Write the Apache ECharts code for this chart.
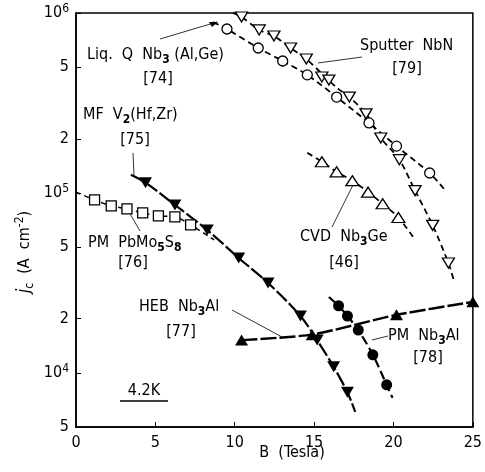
<!DOCTYPE html>
<html><head><meta charset="utf-8">
<script src="https://cdn.jsdelivr.net/npm/echarts@6/dist/echarts.min.js"></script>
<style>html,body{margin:0;padding:0;background:#fff}#c{width:485px;height:472px}</style>
</head><body><div id="c"></div>
<script>
// ---- data (B in Tesla, jc in A/cm^2) ----
const liqB = [9.51, 11.48, 13.02, 14.57, 16.42, 18.46, 20.19, 22.28];
const liqJ = [8.15e5, 6.39e5, 5.41e5, 4.53e5, 3.41e5, 2.45e5, 1.82e5, 1.29e5];
const liqCurveB = [8.64, 9.51, 11.48, 13.02, 14.57, 16.42, 18.46, 20.19, 22.28, 23.27];
const liqCurveJ = [8.9e5, 8.15e5, 6.39e5, 5.41e5, 4.53e5, 3.41e5, 2.45e5, 1.82e5, 1.29e5, 1.03e5];

const nbnB = [10.43, 11.54, 12.47, 13.52, 14.51, 15.49, 15.93, 17.22, 18.27, 19.20, 20.37, 21.36, 22.47, 23.46];
const nbnJ = [9.5e5, 8.05e5, 7.45e5, 6.39e5, 5.55e5, 4.41e5, 4.24e5, 3.41e5, 2.75e5, 2.02e5, 1.53e5, 1.03e5, 6.6e4, 4.08e4];
const nbnCurveB = [9.9, 10.43, 11.54, 12.47, 13.52, 14.51, 15.49, 16.5, 17.22, 18.27, 19.20, 20.37, 21.36, 22.47, 23.46, 23.83];
const nbnCurveJ = [1.0e6, 9.5e5, 8.05e5, 7.45e5, 6.39e5, 5.55e5, 4.6e5, 3.8e5, 3.41e5, 2.75e5, 2.02e5, 1.53e5, 1.03e5, 6.6e4, 4.08e4, 3.2e4];

const cvdB = [15.49, 16.42, 17.41, 18.40, 19.32, 20.31];
const cvdJ = [1.49e5, 1.31e5, 1.17e5, 1.01e5, 8.7e4, 7.3e4];
const cvdCurveB = [14.57, 15.49, 16.42, 17.41, 18.40, 19.32, 20.31, 21.23];
const cvdCurveJ = [1.67e5, 1.49e5, 1.31e5, 1.17e5, 1.01e5, 8.7e4, 7.3e4, 5.7e4];

const mfB = [4.38, 6.23, 8.27, 10.25, 12.10, 14.14, 15.19, 16.23, 17.10];
const mfJ = [1.14e5, 8.58e4, 6.22e4, 4.35e4, 3.16e4, 2.07e4, 1.52e4, 1.08e4, 7.8e3];
const mfCurveB = [3.46, 4.38, 6.23, 8.27, 10.25, 12.10, 14.14, 15.19, 16.23, 17.10, 17.59];
const mfCurveJ = [1.26e5, 1.14e5, 8.58e4, 6.22e4, 4.35e4, 3.16e4, 2.07e4, 1.52e4, 1.08e4, 7.8e3, 6.07e3];

const pbB = [1.17, 2.22, 3.21, 4.20, 5.19, 6.23, 7.22];
const pbJ = [9.14e4, 8.47e4, 8.15e4, 7.74e4, 7.45e4, 7.36e4, 6.64e4];
const pbCurveB = [0, 1.17, 2.22, 3.21, 4.20, 5.19, 6.23, 7.22, 8.70];
const pbCurveJ = [1.01e5, 9.14e4, 8.47e4, 8.15e4, 7.74e4, 7.45e4, 7.36e4, 6.64e4, 5.48e4];

const hebB = [10.43, 14.88, 20.19, 25.0];
const hebJ = [1.52e4, 1.63e4, 2.10e4, 2.48e4];

const pmB = [16.54, 17.10, 17.78, 18.70, 19.57];
const pmJ = [2.36e4, 2.07e4, 1.73e4, 1.26e4, 8.58e3];
const pmCurveB = [15.93, 16.54, 17.10, 17.78, 18.70, 19.57, 19.94];
const pmCurveJ = [2.64e4, 2.36e4, 2.07e4, 1.73e4, 1.26e4, 8.58e3, 7.26e3];

const yTicks = [5000, 1e4, 2e4, 5e4, 1e5, 2e5, 5e5, 1e6];
const xTicks = [0, 5, 10, 15, 20, 25];

const zip = (a, b) => a.map((v, i) => [v, b[i]]);
const FONT = "'DejaVu Sans Condensed', 'DejaVu Sans', sans-serif";
const rich = {
  s: { fontSize: 12, fontFamily: FONT, fill: '#000', color: '#000', verticalAlign: 'bottom', fontWeight: 'bold' },
  c: { fontSize: 12, fontFamily: FONT, fill: '#000', color: '#000', verticalAlign: 'bottom' },
  u: { fontSize: 12, fontFamily: FONT, fill: '#000', color: '#000', verticalAlign: 'top' },
  i: { fontSize: 17, fontFamily: FONT, fontStyle: 'italic', fill: '#000', color: '#000' }
};

const chart = echarts.init(document.getElementById('c'), null, { renderer: 'canvas' });

function txt(x, y, text, align) {
  return { type: 'text', x: x, y: y, silent: true,
    style: { text: text, fontSize: 16, fontFamily: FONT, fill: '#000', align: align || 'left',
      verticalAlign: 'middle', lineHeight: 22, rich: rich } };
}
function ln(x1, y1, x2, y2, w) {
  return { type: 'line', silent: true, shape: { x1, y1, x2, y2 }, style: { stroke: '#000', lineWidth: w || 0.8 } };
}

const dashed = (w, d) => ({ color: '#000', width: w, type: d, opacity: 1 });
const openStyle = { color: '#fff', borderColor: '#000', borderWidth: 1.3, opacity: 1 };
const fillStyle = { color: '#000', opacity: 1 };

chart.setOption({
  animation: false,
  backgroundColor: '#fff',
  xAxis: {
    type: 'value', min: 0, max: 25, interval: 5,
    axisLine: { lineStyle: { color: '#000', width: 1.5 } },
    axisTick: { inside: true, length: 5, customValues: xTicks, lineStyle: { color: '#000' } },
    axisLabel: { color: '#000', fontSize: 16, fontFamily: FONT, margin: 8 },
    splitLine: { show: false }
  },
  grid: { left: 76, right: 3, top: 13, bottom: 45, show: true, borderColor: '#000', borderWidth: 1.5, backgroundColor: 'transparent' },
  yAxis: {
    type: 'log', logBase: 10, min: 5000, max: 1e6,
    axisLine: { show: true, lineStyle: { color: '#000', width: 1.5 } },
    axisTick: { show: true, inside: true, length: 5, customValues: yTicks, lineStyle: { color: '#000' } },
    axisLabel: {
      color: '#000', fontSize: 16, fontFamily: FONT, margin: 7, customValues: yTicks,
      formatter: function (v) {
        const e = Math.round(Math.log10(v));
        if (Math.abs(v - Math.pow(10, e)) < 1e-6 * v) return '10{u|' + e + '}';
        return String(Math.round(v / Math.pow(10, Math.floor(Math.log10(v)))));
      },
      rich: { u: { fontSize: 12, fontFamily: FONT, color: '#000', verticalAlign: 'top', padding: [0, 0, 8, 0] } }
    },
    splitLine: { show: false }
  },
  series: [
    { type: 'line', data: zip(liqCurveB, liqCurveJ), smooth: 0.3, showSymbol: false, symbol: 'none', lineStyle: dashed(1.8, [6, 4]), z: 2 },
    { type: 'line', data: zip(nbnCurveB, nbnCurveJ), smooth: 0.3, showSymbol: false, symbol: 'none', lineStyle: dashed(1.8, [6, 4]), z: 2 },
    { type: 'line', data: zip(cvdCurveB, cvdCurveJ), smooth: 0.3, showSymbol: false, symbol: 'none', lineStyle: dashed(1.8, [6, 4]), z: 2 },
    { type: 'line', data: zip(mfCurveB, mfCurveJ), smooth: 0.3, showSymbol: false, symbol: 'none', lineStyle: dashed(2.2, [14, 3]), z: 2 },
    { type: 'line', data: zip(pbCurveB, pbCurveJ), smooth: 0.3, showSymbol: false, symbol: 'none', lineStyle: dashed(1.5, [5, 4]), z: 2 },
    { type: 'line', data: zip(hebB, hebJ), smooth: 0.2, showSymbol: false, symbol: 'none', lineStyle: dashed(2.4, [16, 3]), z: 2 },
    { type: 'line', data: zip(pmCurveB, pmCurveJ), smooth: 0.3, showSymbol: false, symbol: 'none', lineStyle: dashed(2.2, [9, 4]), z: 2 },

    { type: 'scatter', data: zip(liqB, liqJ), symbol: 'circle', symbolSize: 10, itemStyle: openStyle, z: 5 },
    { type: 'scatter', data: zip(nbnB, nbnJ), symbol: 'triangle', symbolRotate: 180, symbolSize: [12, 10], itemStyle: openStyle, z: 5 },
    { type: 'scatter', data: zip(cvdB, cvdJ), symbol: 'triangle', symbolSize: [13, 10], itemStyle: openStyle, z: 5 },
    { type: 'scatter', data: zip(mfB, mfJ), symbol: 'triangle', symbolRotate: 180, symbolSize: [13, 11], itemStyle: fillStyle, z: 5 },
    { type: 'scatter', data: zip(pbB, pbJ), symbol: 'rect', symbolSize: 10, itemStyle: openStyle, z: 5 },
    { type: 'scatter', data: zip(hebB, hebJ), symbol: 'triangle', symbolSize: [13, 11], itemStyle: fillStyle, z: 5 },
    { type: 'scatter', data: zip(pmB, pmJ), symbol: 'circle', symbolSize: 11, itemStyle: fillStyle, z: 5 }
  ],
  graphic: [
    txt(87, 55, 'Liq.  Q  Nb{s|3} (Al,Ge)'),
    txt(158, 79, '[74]', 'center'),
    txt(83, 115, 'MF  V{s|2}(Hf,Zr)'),
    txt(135, 140, '[75]', 'center'),
    txt(88, 243, 'PM  PbMo{s|5}S{s|8}'),
    txt(133, 263, '[76]', 'center'),
    txt(139, 307, 'HEB  Nb{s|3}Al'),
    txt(181, 332, '[77]', 'center'),
    txt(388, 336, 'PM  Nb{s|3}Al'),
    txt(428, 358, '[78]', 'center'),
    txt(360, 46, 'Sputter  NbN'),
    txt(407, 69, '[79]', 'center'),
    txt(300, 237, 'CVD  Nb{s|3}Ge'),
    txt(344, 263, '[46]', 'center'),
    txt(144, 391, '4.2K', 'center'),
    ln(120, 401, 168, 401, 1.5),
    ln(160, 39, 217, 22),
    { type: 'polygon', silent: true, shape: { points: [[218, 22], [209, 22], [212, 27]] }, style: { fill: '#000' } },
    ln(133, 153, 134, 175),
    ln(129, 212, 140, 231),
    ln(232, 310, 282, 337),
    ln(372, 340, 388, 336),
    ln(318, 63, 362, 57),
    ln(332, 227, 355, 181),
    { type: 'text', x: 292, y: 453, silent: true,
      style: { text: 'B  (Tesla)', fontSize: 16, fontFamily: FONT, fill: '#000', align: 'center', verticalAlign: 'middle' } },
    { type: 'text', x: 25, y: 252, rotation: Math.PI / 2, silent: true,
      style: { text: '{i|j}{c|c}  (A  cm{u|-2})', fontSize: 16, fontFamily: FONT, fill: '#000', align: 'center', verticalAlign: 'middle', lineHeight: 22, rich: rich } }
  ]
});
</script></body></html>
